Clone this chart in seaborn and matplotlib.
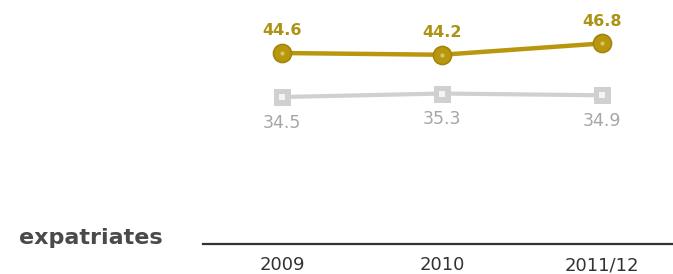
import matplotlib
matplotlib.use("Agg")
import matplotlib.pyplot as plt
import seaborn as sns
import pandas as pd

sns.set_theme(style="white")
plt.rcParams['font.family'] = ['DejaVu Sans']

# Datos
years = ["2009", "2010", "2011/12"]
serie_oro = [44.6, 44.2, 46.8]
serie_gris = [34.5, 35.3, 34.9]
etiqueta_eje = "expatriates"

GOLD = "#b8970e"
GOLD_EDGE = "#a3850a"
GOLD_TXT = "#ad9315"
GREY = "#d0d0d0"
GREY_TXT = "#a6a6a6"

df = pd.DataFrame({"x": range(len(years)), "oro": serie_oro, "gris": serie_gris})

fig = plt.figure(figsize=(6.73, 2.74), dpi=100)
ax = fig.add_axes([203 / 673, 30 / 274, 470 / 673, 244 / 274])

# serie gris (cuadrados con punto claro)
sns.lineplot(data=df, x="x", y="gris", ax=ax, color=GREY, lw=3,
             marker="s", markersize=12, markerfacecolor=GREY, markeredgecolor=GREY)
sns.lineplot(data=df, x="x", y="gris", ax=ax, color=GREY, lw=0,
             marker="s", markersize=4, markerfacecolor="#f4f4f4", markeredgewidth=0)
# serie dorada (circulos con punto claro)
sns.lineplot(data=df, x="x", y="oro", ax=ax, color=GOLD, lw=3.2,
             marker="o", markersize=13, markerfacecolor=GOLD, markeredgecolor=GOLD_EDGE,
             markeredgewidth=1.2)
sns.lineplot(data=df, x="x", y="oro", ax=ax, color=GOLD, lw=0,
             marker="o", markersize=3, markerfacecolor="#d9c460", markeredgewidth=0)

for i, v in enumerate(serie_oro):
    ax.annotate(f"{v}", (i, v), xytext=(0, 16), textcoords="offset points",
                ha="center", va="center", color=GOLD_TXT, fontsize=11.5, fontweight="bold")
for i, v in enumerate(serie_gris):
    ax.annotate(f"{v}", (i, v), xytext=(0, -18.5), textcoords="offset points",
                ha="center", va="center", color=GREY_TXT, fontsize=12.5)

ax.set_xlim(-0.494, 2.444)
ax.set_ylim(0.76, 56.77)
ax.set_xticks(range(len(years)))
ax.set_xticklabels(years, fontsize=13, color="#333333")
ax.tick_params(axis="x", length=0, pad=9)
ax.set_yticks([])
ax.set_xlabel("")
ax.set_ylabel("")
for s in ["top", "right", "left"]:
    ax.spines[s].set_visible(False)
ax.spines["bottom"].set_color("#333333")
ax.spines["bottom"].set_linewidth(1.6)

fig.text(163 / 673, 1 - 238 / 274, etiqueta_eje, ha="right", va="center",
         fontsize=16, fontweight="bold", color="#4a4a4a")

fig.savefig("out.png", dpi=100)
